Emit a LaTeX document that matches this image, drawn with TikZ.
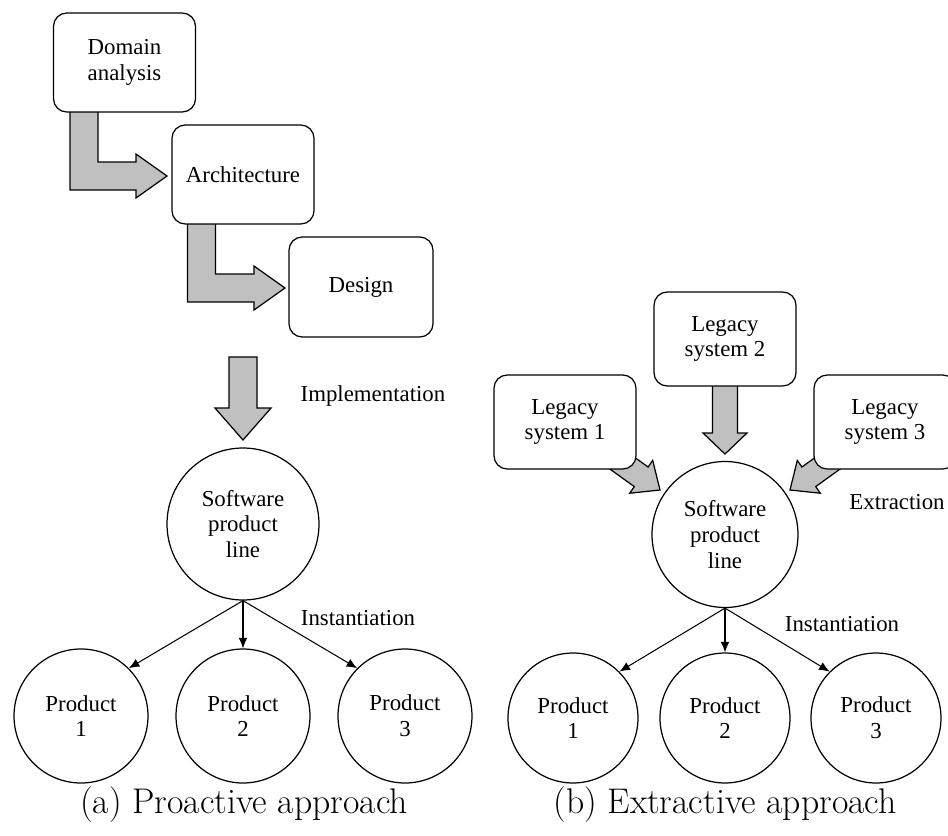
\documentclass[tikz,border=0pt]{standalone}
\usepackage{fontspec}
\newfontfamily\nodefont{Liberation Serif}
\usetikzlibrary{arrows.meta}
\definecolor{blockgray}{RGB}{192,192,192}
\tikzset{
  x=0.02cm, y=-0.02cm,
  txt/.style={font={\nodefont\fontsize{13}{14.7}\selectfont}, align=center},
  stage/.style={txt, draw, rounded corners=7.5pt, fill=white, line width=0.7pt,
    inner sep=0pt, minimum width=2.84cm, minimum height=1.98cm},
  legacy/.style={stage, minimum height=1.88cm},
  bubble/.style={txt, draw, circle, fill=white, line width=0.7pt, inner sep=0pt},
  blockarrow/.style={draw, fill=blockgray, line width=0.7pt, line join=miter},
  thinarrow/.style={draw, line width=0.6pt, -{Latex[length=6pt,width=5pt]}},
  caption/.style={font=\fontsize{20.3}{24}\selectfont}
}
\begin{document}
\begin{tikzpicture}
\useasboundingbox (0,0) rectangle (948,836);
\clip (0,0) rectangle (948,836);

% ---------- (a) proactive ----------
% wide grey flow arrows (drawn first, boxes sit on top)
\draw[blockarrow] (70,100) -- (70,190) -- (136,190) -- (136,198) -- (167,176)
  -- (136,154) -- (136,162) -- (98,162) -- (98,100) -- cycle;
\draw[blockarrow] (187.5,200) -- (187.5,302) -- (254,302) -- (254,310) -- (285,288)
  -- (254,266) -- (254,274) -- (215.5,274) -- (215.5,200) -- cycle;
\draw[blockarrow] (229,357) -- (229,408) -- (215,408) -- (243,440) -- (271,408)
  -- (257,408) -- (257,357) -- cycle;

\node[stage] (da) at (124.5,62.5) {Domain\\analysis};
\node[stage] (arch) at (243,174.5) {Architecture};
\node[stage, minimum width=2.88cm, minimum height=2cm] (des) at (361,287) {Design};
\node[txt] (impl) at (373,396) {Implementation};

\node[bubble, minimum size=3.04cm] (splA) at (243,524) {Software\\product\\line};
\node[bubble, minimum size=2.68cm] (pA1) at (81,716) {Product\\1};
\node[bubble, minimum size=2.68cm] (pA2) at (243,716) {Product\\2};
\node[bubble, minimum size=2.68cm] (pA3) at (405,716) {Product\\3};
\draw[thinarrow] (splA.south) -- (pA1.north east);
\draw[thinarrow] (splA.south) -- (pA2.north);
\draw[thinarrow] (splA.south) -- (pA3.north west);
\node[txt] (instA) at (358,618) {Instantiation};

\node[caption] (capA) at (244,805) {(a) Proactive approach};

% ---------- (b) extractive ----------
\draw[blockarrow] (558.1,431.8) -- (634.3,486.6) -- (629.7,493.2) -- (660,490)
  -- (652.7,460.4) -- (648.1,467.0) -- (571.9,412.2) -- cycle;
\draw[blockarrow] (712.5,340) -- (712.5,433) -- (703,433) -- (725,454) -- (747,433)
  -- (737.5,433) -- (737.5,340) -- cycle;
\draw[blockarrow] (891.9,431.8) -- (815.7,486.6) -- (820.3,493.2) -- (790,490)
  -- (797.3,460.4) -- (801.9,467.0) -- (878.1,412.2) -- cycle;

\node[legacy] (ls1) at (565,422) {Legacy\\system 1};
\node[legacy] (ls2) at (725,339) {Legacy\\system 2};
\node[legacy] (ls3) at (885,422) {Legacy\\system 3};
\node[txt] (extr) at (897,502) {Extraction};

\node[bubble, minimum size=2.92cm] (splB) at (725,534.5) {Software\\product\\line};
\node[bubble, minimum size=2.6cm] (pB1) at (573,718) {Product\\1};
\node[bubble, minimum size=2.6cm] (pB2) at (725,718) {Product\\2};
\node[bubble, minimum size=2.6cm] (pB3) at (876,718) {Product\\3};
\draw[thinarrow] (splB.south) -- (pB1.north east);
\draw[thinarrow] (splB.south) -- (pB2.north);
\draw[thinarrow] (splB.south) -- (pB3.north west);
\node[txt] (instB) at (842,624) {Instantiation};

\node[caption] (capB) at (725,805) {(b) Extractive approach};
\end{tikzpicture}
\end{document}
